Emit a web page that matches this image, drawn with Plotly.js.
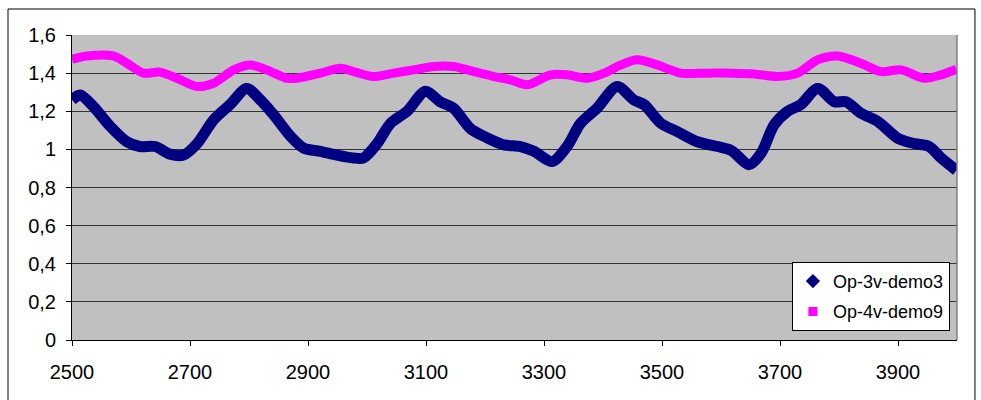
<!DOCTYPE html>
<html>
<head>
<meta charset="utf-8">
<script src="https://cdn.plot.ly/plotly-3.0.1.min.js"></script>
<style>html,body{margin:0;padding:0;background:#fff;}#chart{width:981px;height:400px;}</style>
</head>
<body>
<div id="chart"></div>
<script>
const seriesNames = ['Op-3v-demo3', 'Op-4v-demo9'];

const xDemo3 = [2500,2514,2536,2565,2593,2615,2641,2666,2689,2712,2740,2768,2796,2819,2842,2870,
  2893,2921,2949,2977,2994,3017,3040,3068,3099,3124,3147,3175,3204,3232,3260,3283,3314,3339,3362,
  3390,3424,3452,3470,3498,3526,3560,3594,3617,3648,3668,3690,3713,3735,3764,3792,3812,3837,3866,
  3900,3928,3953,3973,3999];
const yDemo3 = [1.26,1.285,1.225,1.12,1.04,1.015,1.015,0.975,0.97,1.03,1.155,1.235,1.32,1.26,1.18,1.07,
  1.006,0.99,0.97,0.955,0.955,1.03,1.137,1.2,1.305,1.25,1.215,1.11,1.06,1.024,1.015,0.99,0.936,1.015,1.137,
  1.216,1.33,1.26,1.234,1.137,1.093,1.04,1.015,0.995,0.92,0.98,1.128,1.2,1.234,1.32,1.25,1.25,1.19,1.146,
  1.058,1.03,1.015,0.955,0.89];

const xDemo9 = [2500,2525,2570,2593,2621,2649,2678,2712,2740,2774,2802,2830,2864,2881,2921,2955,2977,
  3011,3045,3079,3113,3147,3181,3215,3243,3272,3311,3339,3373,3402,3430,3458,3492,3532,3577,3617,
  3656,3696,3730,3764,3798,3837,3871,3905,3945,3973,3999];
const yDemo9 = [1.473,1.49,1.49,1.452,1.4,1.405,1.373,1.33,1.347,1.417,1.443,1.417,1.373,1.373,1.4,1.426,1.408,
  1.382,1.4,1.417,1.435,1.435,1.408,1.382,1.365,1.339,1.391,1.391,1.373,1.4,1.443,1.47,1.443,1.4,1.4,1.4,
  1.396,1.382,1.4,1.47,1.49,1.452,1.408,1.417,1.373,1.391,1.42];

const xTicks = [2500,2700,2900,3100,3300,3500,3700,3900];
const yTicks = [0,0.2,0.4,0.6,0.8,1,1.2,1.4,1.6];

const navy = '#000080';
const magenta = '#ff00ff';
const legendFont = {family: 'Liberation Sans, Arial, sans-serif', size: 18, color: '#000'};
const tickFont = {family: 'Liberation Sans, Arial, sans-serif', size: 20, color: '#000'};

const traces = [
  {x: xDemo3, y: yDemo3, mode: 'lines', line: {color: navy, width: 11, shape: 'spline', smoothing: 0.8}, showlegend: false, hoverinfo: 'skip'},
  {x: xDemo9, y: yDemo9, mode: 'lines', line: {color: magenta, width: 9, shape: 'spline', smoothing: 0.8}, showlegend: false, hoverinfo: 'skip'},
  {x: [null], y: [null], name: seriesNames[0], mode: 'markers', marker: {symbol: 'diamond', color: navy, size: 11}, legendgroup: 'a'},
  {x: [null], y: [null], name: seriesNames[1], mode: 'markers', marker: {symbol: 'square', color: magenta, size: 9}, legendgroup: 'b'}
];

const layout = {
  width: 981, height: 400,
  margin: {l: 72, r: 24, t: 35, b: 60},
  paper_bgcolor: '#fff',
  plot_bgcolor: '#c0c0c0',
  separators: ', ',
  font: legendFont,
  showlegend: true,
  legend: {
    x: 0.992, xanchor: 'right', y: 0.03, yanchor: 'bottom',
    bgcolor: '#fff', bordercolor: '#000', borderwidth: 1,
    font: legendFont, tracegroupgap: 4, traceorder: 'grouped'
  },
  xaxis: {
    range: [2500, 4000], tickvals: xTicks, ticks: 'outside', ticklen: 5, tickcolor: '#000',
    showline: true, linecolor: '#000', linewidth: 1, showgrid: false, zeroline: false,
    ticklabelstandoff: 9, tickfont: tickFont
  },
  yaxis: {
    range: [0, 1.6], tickvals: yTicks, ticks: 'outside', ticklen: 5, tickcolor: '#000',
    showline: true, linecolor: '#000', linewidth: 1, showgrid: true, gridcolor: '#333', gridwidth: 1,
    zeroline: false, ticklabelstandoff: 6, tickfont: tickFont
  },
  shapes: [
    {type: 'rect', xref: 'paper', yref: 'paper', x0: -0.0723, x1: 1.0203, y0: -0.4, y1: 1.0852,
     line: {color: '#000', width: 1}, fillcolor: 'rgba(0,0,0,0)', layer: 'below'},
    {type: 'line', xref: 'paper', yref: 'paper', x0: 1, x1: 1, y0: 0, y1: 1, line: {color: '#808080', width: 1.5}}
  ]
};

Plotly.newPlot('chart', traces, layout, {staticPlot: true});
</script>
</body>
</html>
